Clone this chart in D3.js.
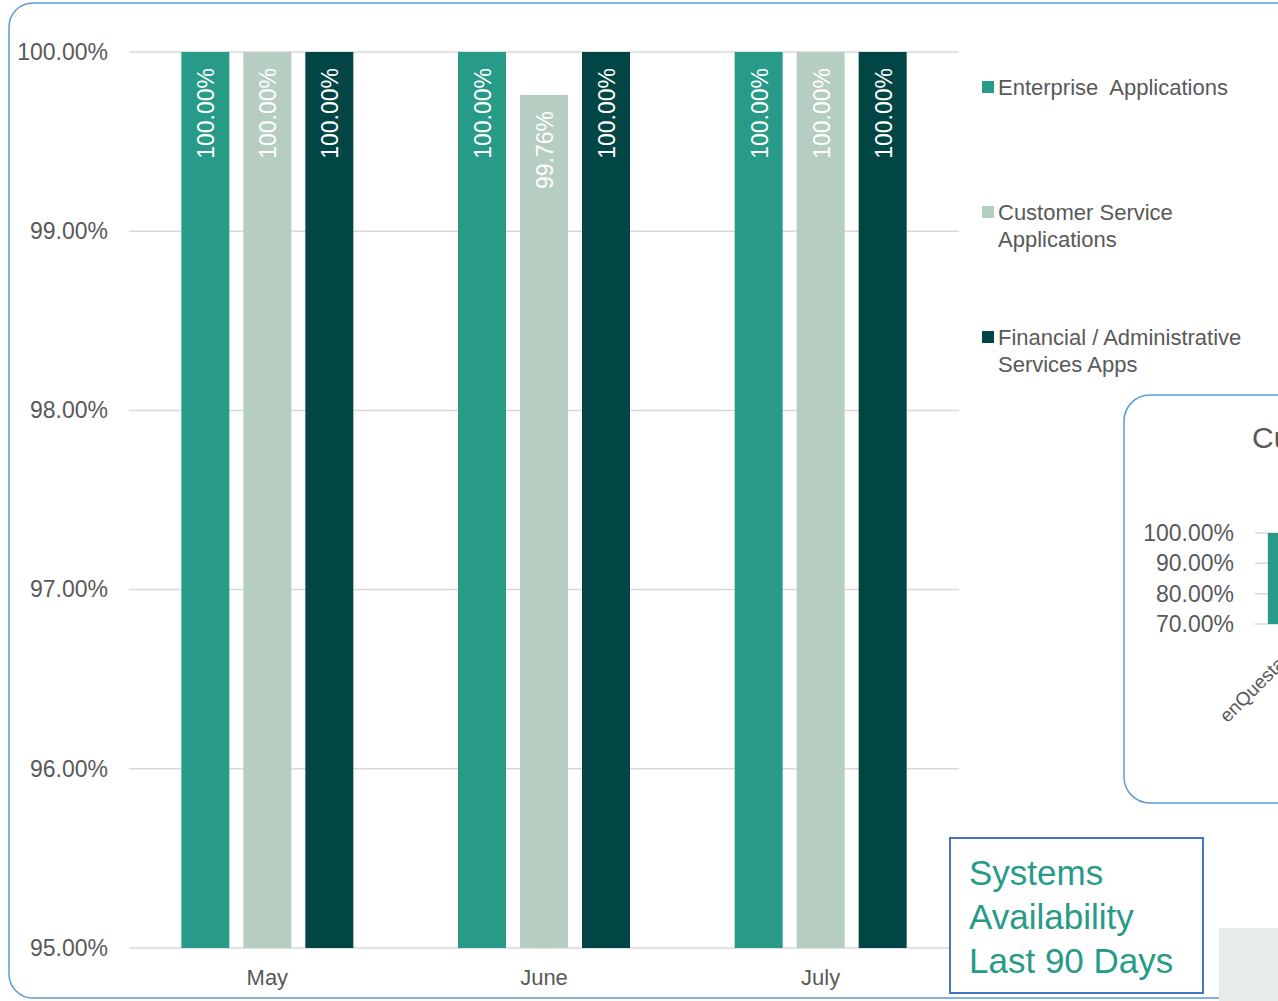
<!DOCTYPE html>
<html>
<head>
<meta charset="utf-8">
<script src="https://cdn.jsdelivr.net/npm/d3@7"></script>
<style>
  body { margin: 0; background: #fff; overflow: hidden; }
  svg { display: block; font-family: "Liberation Sans", Arial, sans-serif; }
  text { white-space: pre; }
</style>
</head>
<body>
<div id="container"></div>
<script>
/* DATA */
const months = ["May", "June", "July"];
const seriesNames = ["Enterprise  Applications", "Customer Service Applications", "Financial / Administrative Services Apps"];
const enterpriseApps = [1.0, 1.0, 1.0];
const customerServiceApps = [1.0, 0.9976, 1.0];
const financialAdminApps = [1.0, 1.0, 1.0];
const yTicks = [0.95, 0.96, 0.97, 0.98, 0.99, 1.0];
const colors = ["#279a88", "#b6cdc1", "#024545"];

// second (partly hidden) chart
const subCategories = ["enQuesta CIS"];
const subValues = [1.0];
const subTicks = [0.7, 0.8, 0.9, 1.0];

const titleLines = ["Systems", "Availability", "Last 90 Days"];

/* CONSTANTS */
const width = 1278, height = 1001;
const margin = { top: 52, bottom: 53, left: 129, right: 319 };
const grey = "#595959";
const numSize = 23, textSize = 22;

const svg = d3.select("#container").append("svg")
  .attr("width", width)
  .attr("height", height);

// outer card
svg.append("rect")
  .attr("x", 9).attr("y", 3)
  .attr("width", 1320).attr("height", 995)
  .attr("rx", 24)
  .attr("fill", "#fff")
  .attr("stroke", "#5b9bd5")
  .attr("stroke-width", 1.5);

const xScale = d3.scaleBand()
  .domain(months)
  .range([margin.left, width - margin.right]);

const yScale = d3.scaleLinear()
  .domain([0.95, 1.0])
  .range([height - margin.bottom, margin.top]);

const barW = 48, barGap = 14;
const xSub = d3.scaleBand()
  .domain(d3.range(3))
  .range([-(barW * 1.5 + barGap), barW * 1.5 + barGap])
  .paddingInner(barGap / (barW + barGap))
  .paddingOuter(0);

// gridlines
svg.append("g")
  .selectAll("line")
  .data(yTicks)
  .join("line")
  .attr("x1", margin.left)
  .attr("x2", width - margin.right)
  .attr("y1", d => yScale(d))
  .attr("y2", d => yScale(d))
  .attr("stroke", "#d9d9d9")
  .attr("stroke-width", 1.5);

// y axis labels
const yAxis = d3.axisLeft(yScale)
  .tickValues(yTicks)
  .tickFormat(d3.format(".2%"))
  .tickSize(0)
  .tickPadding(21);

svg.append("g")
  .attr("transform", `translate(${margin.left}, 0)`)
  .call(yAxis)
  .call(g => g.select(".domain").remove())
  .selectAll("text")
  .attr("fill", grey)
  .attr("font-size", numSize)
  .attr("font-family", "Liberation Sans, Arial, sans-serif");

// x axis labels
const xAxis = d3.axisBottom(xScale).tickSize(0).tickPadding(21);
svg.append("g")
  .attr("transform", `translate(0, ${height - margin.bottom})`)
  .call(xAxis)
  .call(g => g.select(".domain").remove())
  .selectAll("text")
  .attr("fill", grey)
  .attr("font-size", textSize)
  .attr("font-family", "Liberation Sans, Arial, sans-serif");

// bars
const allSeries = [enterpriseApps, customerServiceApps, financialAdminApps];
const barData = [];
months.forEach((m, i) => {
  allSeries.forEach((s, j) => barData.push({ month: m, series: j, value: s[i] }));
});

const bars = svg.append("g").selectAll("g.bar")
  .data(barData)
  .join("g")
  .attr("class", "bar")
  .attr("transform", d => `translate(${xScale(d.month) + xScale.bandwidth() / 2}, 0)`);

bars.append("rect")
  .attr("x", d => xSub(d.series))
  .attr("width", xSub.bandwidth())
  .attr("y", d => yScale(d.value))
  .attr("height", d => yScale(0.95) - yScale(d.value))
  .attr("fill", d => colors[d.series]);

bars.append("text")
  .attr("transform", d => `translate(${xSub(d.series) + xSub.bandwidth() / 2 + 9}, ${yScale(d.value) + 16}) rotate(-90)`)
  .attr("text-anchor", "end")
  .attr("fill", "#fff")
  .attr("font-size", numSize)
  .text(d => d3.format(".2%")(d.value));

// legend
const legend = svg.append("g").attr("transform", "translate(982, 0)");
const legendLines = [["Enterprise  Applications"], ["Customer Service", "Applications"], ["Financial / Administrative", "Services Apps"]];
const legendY = [87, 212, 337];
legendLines.forEach((lines, i) => {
  legend.append("rect")
    .attr("x", 0).attr("y", legendY[i] - 6)
    .attr("width", 12).attr("height", 12)
    .attr("fill", colors[i]);
  const t = legend.append("text")
    .attr("x", 16).attr("y", legendY[i] + 8)
    .attr("fill", grey)
    .attr("font-size", textSize);
  lines.forEach((l, k) => t.append("tspan").attr("x", 16).attr("dy", k === 0 ? 0 : 27).text(l));
});

// second chart card (cut off at the right)
const sub = svg.append("g");
sub.append("rect")
  .attr("x", 1124).attr("y", 395)
  .attr("width", 300).attr("height", 408)
  .attr("rx", 26)
  .attr("fill", "#fff")
  .attr("stroke", "#5b9bd5")
  .attr("stroke-width", 1.5);

sub.append("text")
  .attr("x", 1252).attr("y", 448)
  .attr("fill", grey)
  .attr("font-size", 30)
  .text("Current");

const subY = d3.scaleLinear().domain([0.7, 1.0]).range([624, 533]);
const subX = d3.scaleBand().domain(subCategories).range([1255, 1375]).padding(0.12);

sub.append("g").selectAll("line")
  .data(subTicks)
  .join("line")
  .attr("x1", 1255).attr("x2", 1300)
  .attr("y1", d => subY(d)).attr("y2", d => subY(d))
  .attr("stroke", "#d9d9d9").attr("stroke-width", 1.5);

sub.append("g")
  .attr("transform", "translate(1255, 0)")
  .call(d3.axisLeft(subY).tickValues(subTicks).tickFormat(d3.format(".2%")).tickSize(0).tickPadding(21))
  .call(g => g.select(".domain").remove())
  .selectAll("text")
  .attr("fill", grey)
  .attr("font-size", numSize)
  .attr("font-family", "Liberation Sans, Arial, sans-serif");

sub.selectAll("rect.sbar")
  .data(subValues)
  .join("rect")
  .attr("class", "sbar")
  .attr("x", (d, i) => subX(subCategories[i]))
  .attr("width", subX.bandwidth())
  .attr("y", d => subY(d))
  .attr("height", d => subY(0.7) - subY(d))
  .attr("fill", colors[0]);

sub.selectAll("text.slab")
  .data(subCategories)
  .join("text")
  .attr("class", "slab")
  .attr("transform", d => `translate(${subX(d) + subX.bandwidth() / 2 - 3}, 639) rotate(-45)`)
  .attr("text-anchor", "end")
  .attr("fill", grey)
  .attr("font-size", 19)
  .text(d => d);

// grey tile
svg.append("rect")
  .attr("x", 1219).attr("y", 928)
  .attr("width", 80).attr("height", 80)
  .attr("fill", "#e7ecea");

// title box
svg.append("rect")
  .attr("x", 950).attr("y", 838)
  .attr("width", 253).attr("height", 155)
  .attr("fill", "#fff")
  .attr("stroke", "#4472c4")
  .attr("stroke-width", 2);

const title = svg.append("text")
  .attr("x", 969).attr("y", 885)
  .attr("fill", "#279a88")
  .attr("font-size", 35);
titleLines.forEach((l, k) => title.append("tspan").attr("x", 969).attr("dy", k === 0 ? 0 : 44).text(l));
</script>
</body>
</html>
